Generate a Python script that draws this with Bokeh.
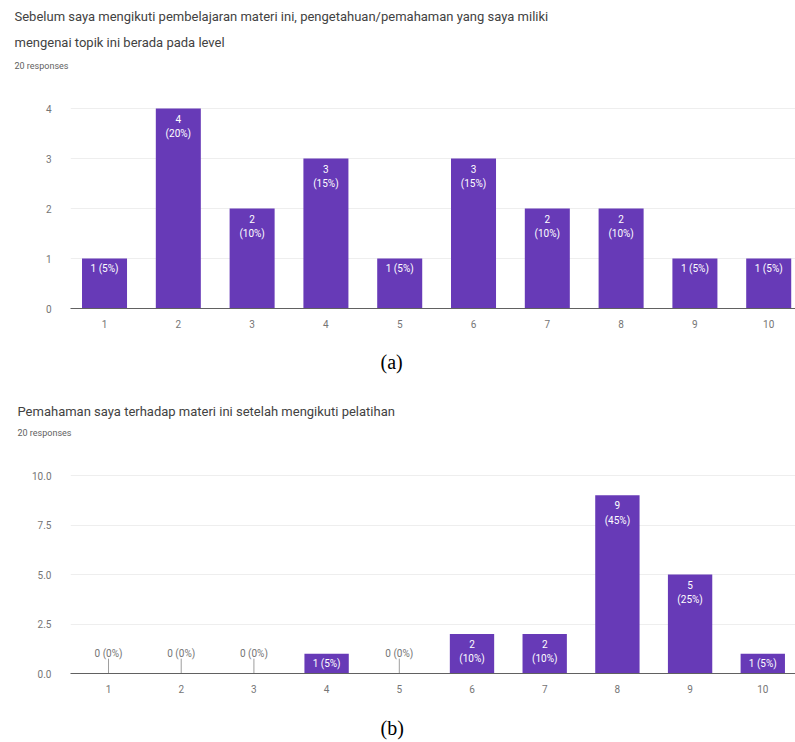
from bokeh.plotting import figure
from bokeh.models import Range1d, FixedTicker, Title, NumeralTickFormatter, ColumnDataSource
from bokeh.layouts import column
from bokeh.core.properties import value
from bokeh.embed import file_html
from bokeh.resources import INLINE

# ---- data ----
levels = [1, 2, 3, 4, 5, 6, 7, 8, 9, 10]
before_counts = [1, 4, 2, 3, 1, 3, 2, 2, 1, 1]
after_counts = [0, 0, 0, 1, 0, 2, 2, 9, 5, 1]
n_responses = 20
title_a_lines = [
    "Sebelum saya mengikuti pembelajaran materi ini, pengetahuan/pemahaman yang saya miliki",
    "mengenai topik ini berada pada level",
]
title_b_lines = ["Pemahaman saya terhadap materi ini setelah mengikuti pelatihan"]
y_ticks_a = [0, 1, 2, 3, 4]
y_ticks_b = [0, 2.5, 5, 7.5, 10]
captions = ["(a)", "(b)"]

PURPLE = "#673ab7"
FONT = "Roboto"
TEXT_GREY = "#757575"
CAP_FONT = "Liberation Serif"


def caption_title(text, offset, standoff):
    return Title(text=text, text_font=CAP_FONT, text_font_size="20px",
                 text_font_style="normal", text_color="black", align="left",
                 offset=offset, standoff=standoff)


def make_chart(counts, title_lines, yticks, yfmt, xr, y_top, height, border_left,
               border_top, border_bottom, title_offset, stand):
    p = figure(width=795, height=height, output_backend="svg", toolbar_location=None,
               x_range=Range1d(*xr), y_range=Range1d(0, y_top),
               min_border_left=border_left, min_border_right=0,
               min_border_top=border_top, min_border_bottom=border_bottom,
               outline_line_color=None)
    p.background_fill_color = "white"
    p.border_fill_color = "white"

    pct = [round(c / n_responses * 100) for c in counts]
    pos = [c > 0 for c in counts]
    line1 = []
    line2 = []
    for c, q in zip(counts, pct):
        if c == 1:
            line1.append(f"{c} ({q}%)")
            line2.append("")
        else:
            line1.append(str(c))
            line2.append(f"({q}%)")

    src = ColumnDataSource(dict(
        x=[l for l, ok in zip(levels, pos) if ok],
        top=[c for c, ok in zip(counts, pos) if ok],
        l1=[t for t, ok in zip(line1, pos) if ok],
        l2=[t for t, ok in zip(line2, pos) if ok],
    ))
    p.vbar(x="x", top="top", bottom=0, width=0.61, source=src,
           fill_color=PURPLE, line_color=None)
    p.text(x="x", y="top", text="l1", source=src, text_align="center",
           text_baseline="middle", y_offset=10, text_color="white",
           text_font=value(FONT), text_font_size="10px")
    p.text(x="x", y="top", text="l2", source=src, text_align="center",
           text_baseline="middle", y_offset=25, text_color="white",
           text_font=value(FONT), text_font_size="10px")

    zx = [l for l, c in zip(levels, counts) if c == 0]
    if zx:
        zsrc = ColumnDataSource(dict(
            x=zx, y=[0] * len(zx),
            y1=[max(yticks) * 0.075] * len(zx),
            t=[f"0 ({0}%)" for _ in zx]))
        p.segment(x0="x", y0="y", x1="x", y1="y1", source=zsrc,
                  line_color="#9e9e9e", line_width=1)
        p.text(x="x", y="y", text="t", source=zsrc, text_align="center",
               text_baseline="middle", y_offset=-20, text_color=TEXT_GREY,
               text_font=value(FONT), text_font_size="10px")

    # axes
    xa = p.xaxis[0]
    xa.ticker = FixedTicker(ticks=levels)
    xa.major_tick_line_color = None
    xa.minor_tick_line_color = None
    xa.axis_line_color = "#616161"
    xa.axis_line_width = 1.2
    xa.major_label_standoff = 5
    xa.major_label_text_font = FONT
    xa.major_label_text_font_size = "10px"
    xa.major_label_text_color = TEXT_GREY

    ya = p.yaxis[0]
    ya.ticker = FixedTicker(ticks=yticks)
    ya.formatter = NumeralTickFormatter(format=yfmt)
    ya.axis_line_color = None
    ya.major_tick_line_color = None
    ya.minor_tick_line_color = None
    ya.major_label_standoff = 13
    ya.major_label_text_font = FONT
    ya.major_label_text_font_size = "10px"
    ya.major_label_text_color = TEXT_GREY

    p.xgrid.grid_line_color = None
    p.ygrid.grid_line_color = "#eeeeee"
    p.ygrid.ticker = FixedTicker(ticks=yticks)

    # titles (added bottom-up)
    p.add_layout(Title(text=f"{n_responses} responses", text_font=FONT,
                       text_font_size="9px", text_font_style="normal",
                       text_color="#616161", align="left",
                       offset=title_offset, standoff=stand[0]), "above")
    for i, line in enumerate(reversed(title_lines)):
        p.add_layout(Title(text=line, text_font=FONT, text_font_size="13px",
                           text_font_style="normal", text_color="#424242",
                           align="left", offset=title_offset,
                           standoff=stand[1 + i]), "above")
    return p


pa = make_chart(before_counts, title_a_lines, y_ticks_a, "0", (0.539, 10.363), 4.72, 392,
                70, 72, 84, -56, [3, 16, 2])
pa.add_layout(caption_title(captions[0], 310, 37), "below")

pb = make_chart(after_counts, title_b_lines, y_ticks_b, "0.0", (0.477, 10.45), 11.82, 303,
                70, 47, 22, -53, [3, 12])

# strip holding the caption of chart (b)
pc = figure(width=795, height=47, output_backend="svg", toolbar_location=None,
            x_axis_type=None, y_axis_type=None, outline_line_color=None,
            min_border_left=0, min_border_right=0, min_border_top=0, min_border_bottom=28,
            x_range=Range1d(0, 1), y_range=Range1d(0, 1))
pc.grid.visible = False
pc.add_layout(caption_title(captions[1], 310, 0), "below")

layout = column(pa, pb, pc, spacing=0)
open("out.html", "w").write(file_html(layout, INLINE))
